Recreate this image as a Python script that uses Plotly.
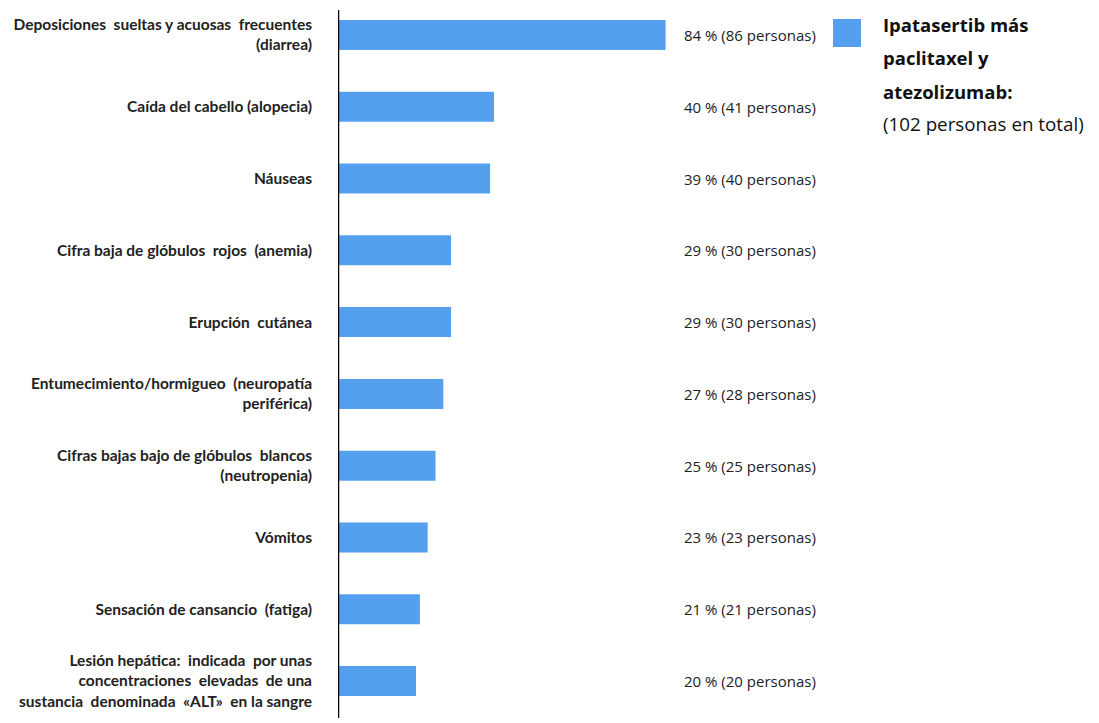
import plotly.graph_objects as go

categories = [
    "Deposiciones  sueltas y acuosas  frecuentes<br>(diarrea)",
    "Caída del cabello (alopecia)",
    "Náuseas",
    "Cifra baja de glóbulos  rojos  (anemia)",
    "Erupción  cutánea",
    "Entumecimiento/hormigueo  (neuropatía<br>periférica)",
    "Cifras bajas bajo de glóbulos  blancos<br>(neutropenia)",
    "Vómitos",
    "Sensación de cansancio  (fatiga)",
    "Lesión hepática:  indicada  por unas<br>concentraciones  elevadas  de una<br>sustancia  denominada  «ALT»  en la sangre",
]
percent = [84, 40, 39, 29, 29, 27, 25, 23, 21, 20]
persons = [86, 41, 40, 30, 30, 28, 25, 23, 21, 20]
value_labels = [f"{p} % ({n} personas)" for p, n in zip(percent, persons)]
legend_lines = ["Ipatasertib más", "paclitaxel y", "atezolizumab:"]
legend_total = "(102 personas en total)"

BAR = "#55A0EE"
# page body has an 8px default margin; size the figure to compensate
W, H = 1091, 715
ml, mr, mt, mb = 330, 0, 0, 0
pw, ph = W - ml - mr, H - mt - mb
PX_PER_PCT = 3.9
xmax = pw / PX_PER_PCT
STEP = 71.78           # pixels per category
first_center = 27      # pixel y of first category center
y_top = -first_center / STEP
y_bottom = (ph - first_center) / STEP

fig = go.Figure()
fig.add_trace(go.Bar(
    y=list(range(len(categories))), x=percent, orientation="h",
    width=30 / STEP,
    marker=dict(color=BAR, line=dict(width=0)),
    hoverinfo="skip", showlegend=False,
))

for i, t in enumerate(value_labels):
    fig.add_annotation(x=(674 - ml) / PX_PER_PCT, y=i, xref="x", yref="y", text=t,
                       showarrow=False, xanchor="left", yanchor="middle",
                       font=dict(family="Open Sans", size=15, color="#222"))

def px_x(px):
    return (px - ml) / pw
def px_y(py):
    return (H - mb - py) / ph

# axis line
fig.add_shape(type="line", xref="x", yref="paper", x0=0, x1=0,
              y0=px_y(710), y1=px_y(2),
              line=dict(color="black", width=2.5))

# legend
fig.add_shape(type="rect", xref="paper", yref="paper",
              x0=px_x(825), x1=px_x(853), y0=px_y(39), y1=px_y(11),
              fillcolor=BAR, line=dict(width=0))
for i, line in enumerate(legend_lines):
    fig.add_annotation(x=px_x(873), y=px_y(16 + 33.5 * i),
                       xref="paper", yref="paper", text=f"<b>{line}</b>",
                       showarrow=False, xanchor="left", yanchor="middle",
                       font=dict(family="Open Sans", size=18.5, color="#111"))
fig.add_annotation(x=px_x(873), y=px_y(116),
                   xref="paper", yref="paper", text=legend_total,
                   showarrow=False, xanchor="left", yanchor="middle",
                   font=dict(family="Open Sans", size=18.8, color="#111"))

fig.update_layout(
    width=W, height=H,
    margin=dict(l=ml, r=mr, t=mt, b=mb, autoexpand=False),
    plot_bgcolor="white", paper_bgcolor="white",
    xaxis=dict(range=[0, xmax], visible=False, fixedrange=True),
    yaxis=dict(range=[y_bottom, y_top], showline=False, showgrid=False,
               zeroline=False, ticks="", ticklabelstandoff=25,
               tickmode="array", tickvals=list(range(len(categories))),
               ticktext=categories,
               tickfont=dict(family="Lato", size=15.5, color="#222", weight="bold")),
)

fig.write_html("out.html")
